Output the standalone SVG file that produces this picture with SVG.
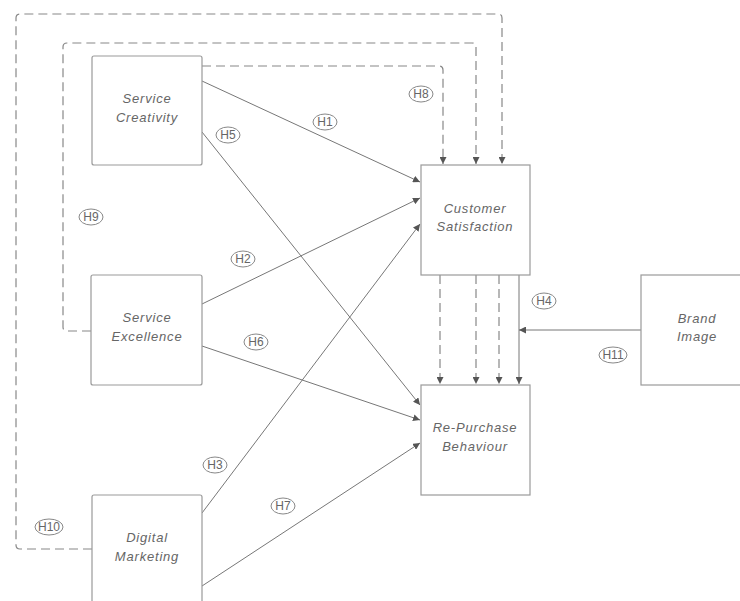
<svg xmlns="http://www.w3.org/2000/svg" width="740" height="601" viewBox="0 0 740 601">
<defs>
<marker id="ah" viewBox="0 0 10 10" refX="10" refY="5" markerWidth="7" markerHeight="7" markerUnits="userSpaceOnUse" orient="auto">
<path d="M0,0 L10,5 L0,10 z" fill="#555"/>
</marker>
<style>
.box{fill:#fff;stroke:#9a9a9a;stroke-width:1.2}
.t{font-family:"Liberation Sans",Arial,sans-serif;font-style:italic;font-size:13px;letter-spacing:0.8px;fill:#666;text-anchor:middle}
.c{fill:none;stroke:#777;stroke-width:1}
.d{fill:none;stroke:#888;stroke-width:1.2;stroke-dasharray:9,5}
.lb ellipse{fill:#fff;stroke:#888;stroke-width:1}
.lb text{font-family:"Liberation Sans",Arial,sans-serif;font-size:12px;fill:#666;text-anchor:middle}
</style>
</defs>
<rect width="740" height="601" fill="#fff"/>
<g id="connectors">
<path class="d" d="M92,549 H20 Q16,549 16,545 V18 Q16,14 20,14 H498 Q502,14 502,18 V164" marker-end="url(#ah)"/>
<path class="d" d="M91,331 H67 Q63,331 63,327 V47 Q63,43 67,43 H472 Q476,43 476,47 V164" marker-end="url(#ah)"/>
<path class="d" d="M202,66 H439 Q443,66 443,70 V164" marker-end="url(#ah)"/>
<line class="c" x1="202" y1="81" x2="420" y2="182" marker-end="url(#ah)"/>
<line class="c" x1="202" y1="132" x2="420" y2="405" marker-end="url(#ah)"/>
<line class="c" x1="202" y1="304" x2="420" y2="198" marker-end="url(#ah)"/>
<line class="c" x1="202" y1="346" x2="420" y2="420" marker-end="url(#ah)"/>
<line class="c" x1="202" y1="513" x2="420" y2="224" marker-end="url(#ah)"/>
<line class="c" x1="202" y1="586" x2="420" y2="443" marker-end="url(#ah)"/>
<line class="d" x1="440" y1="275" x2="440" y2="384" marker-end="url(#ah)"/>
<line class="d" x1="476" y1="275" x2="476" y2="384" marker-end="url(#ah)"/>
<line class="d" x1="499" y1="275" x2="499" y2="384" marker-end="url(#ah)"/>
<line class="c" x1="519" y1="275" x2="519" y2="384" marker-end="url(#ah)"/>
<line class="c" x1="641" y1="330" x2="519" y2="330" marker-end="url(#ah)"/>
</g>
<g id="n-service-creativity">
<rect class="box" x="92" y="56" width="110" height="109" rx="2"/>
<text class="t" x="147" y="103">Service</text>
<text class="t" x="147" y="122">Creativity</text>
</g>
<g id="n-service-excellence">
<rect class="box" x="91" y="275" width="111" height="110" rx="2"/>
<text class="t" x="147" y="322">Service</text>
<text class="t" x="147" y="341">Excellence</text>
</g>
<g id="n-digital-marketing">
<rect class="box" x="92" y="495" width="110" height="115" rx="2"/>
<text class="t" x="147" y="542">Digital</text>
<text class="t" x="147" y="561">Marketing</text>
</g>
<g id="n-customer-satisfaction">
<rect class="box" x="421" y="165" width="109" height="110"/>
<text class="t" x="475" y="213">Customer</text>
<text class="t" x="475" y="231">Satisfaction</text>
</g>
<g id="n-repurchase-behaviour">
<rect class="box" x="421" y="385" width="109" height="110"/>
<text class="t" x="475" y="432">Re-Purchase</text>
<text class="t" x="475" y="451">Behaviour</text>
</g>
<g id="n-brand-image">
<rect class="box" x="641" y="275" width="120" height="110"/>
<text class="t" x="697" y="323">Brand</text>
<text class="t" x="697" y="341">Image</text>
</g>
<g id="labels">
<g class="lb"><ellipse cx="325" cy="122" rx="12" ry="8"/><text x="325" y="126">H1</text></g>
<g class="lb"><ellipse cx="243" cy="259" rx="12" ry="8"/><text x="243" y="263">H2</text></g>
<g class="lb"><ellipse cx="215" cy="465" rx="12" ry="8"/><text x="215" y="469">H3</text></g>
<g class="lb"><ellipse cx="544" cy="301" rx="12" ry="8"/><text x="544" y="305">H4</text></g>
<g class="lb"><ellipse cx="228" cy="135" rx="12" ry="8"/><text x="228" y="139">H5</text></g>
<g class="lb"><ellipse cx="256" cy="342" rx="12" ry="8"/><text x="256" y="346">H6</text></g>
<g class="lb"><ellipse cx="283" cy="506" rx="12" ry="8"/><text x="283" y="510">H7</text></g>
<g class="lb"><ellipse cx="421" cy="94" rx="12" ry="8"/><text x="421" y="98">H8</text></g>
<g class="lb"><ellipse cx="91" cy="217" rx="12" ry="8"/><text x="91" y="221">H9</text></g>
<g class="lb"><ellipse cx="49" cy="527" rx="14" ry="8"/><text x="49" y="531">H10</text></g>
<g class="lb"><ellipse cx="613" cy="355" rx="14" ry="8"/><text x="613" y="359">H11</text></g>
</g>
</svg>
